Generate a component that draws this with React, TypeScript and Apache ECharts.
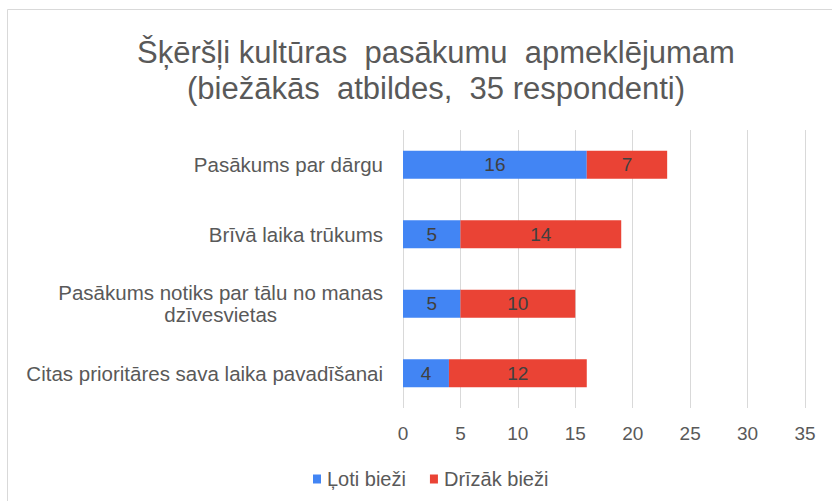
import React, { useEffect, useRef } from "react";
import * as echarts from "echarts";

const categories = [
  "Pasākums par dārgu",
  "Brīvā laika trūkums",
  "Pasākums notiks par tālu no manas\ndzīvesvietas",
  "Citas prioritāres sava laika pavadīšanai",
];
const lotiBiezi = [16, 5, 5, 4];
const drizakBiezi = [7, 14, 10, 12];
const seriesNames = ["Ļoti bieži", "Drīzāk bieži"];
const titleLines = ["Šķēršļi kultūras  pasākumu  apmeklējumam", "(biežākās  atbildes,  35 respondenti)"];

export default function App() {
  const ref = useRef<HTMLDivElement>(null);
  useEffect(() => {
    if (!ref.current) return;
    const chart = echarts.init(ref.current, null, { renderer: "svg" });
    const font = "'Liberation Sans', Arial, sans-serif";
    const labelStyle = {
      show: true,
      position: "inside",
      color: "#404040",
      fontSize: 19,
      fontFamily: font,
    };
    chart.setOption({
      animation: false,
      backgroundColor: "#ffffff",
      textStyle: { fontFamily: font },
      graphic: [
        {
          type: "rect",
          shape: { x: 7.5, y: 9.5, width: 830, height: 500 },
          style: { fill: "none", stroke: "#d9d9d9", lineWidth: 1 },
          silent: true,
        },
      ],
      title: {
        text: titleLines.join("\n"),
        left: 431,
        textAlign: "center",
        top: 29,
        textStyle: {
          fontFamily: font,
          fontSize: 31,
          fontWeight: "normal",
          color: "#595959",
          lineHeight: 36,
        },
      },
      legend: {
        data: seriesNames,
        top: 464,
        left: 308,
        itemWidth: 8,
        itemHeight: 9,
        itemGap: 24,
        icon: "rect",
        textStyle: { fontSize: 20, color: "#595959", fontFamily: font, padding: [0, 0, 0, 1] },
      },
      grid: { left: 403, right: 27, top: 130, height: 278, containLabel: false },
      xAxis: {
        type: "value",
        min: 0,
        max: 35,
        interval: 5,
        axisLine: { show: false },
        axisTick: { show: false },
        splitLine: { lineStyle: { color: "#d9d9d9" } },
        axisLabel: { fontSize: 19, color: "#595959", margin: 16, fontFamily: font },
      },
      yAxis: {
        type: "category",
        inverse: true,
        data: categories,
        axisLine: { show: false },
        axisTick: { show: false },
        axisLabel: {
          margin: 20,
          fontSize: 20.5,
          color: "#595959",
          fontFamily: font,
          formatter: (v: string) =>
            v
              .split("\n")
              .map((s) => `{c|${s}}`)
              .join("\n"),
          rich: {
            c: { align: "center", fontSize: 20.5, color: "#595959", fontFamily: font, lineHeight: 22 },
          },
        },
      },
      series: [
        {
          name: seriesNames[0],
          type: "bar",
          stack: "total",
          barWidth: 28,
          data: lotiBiezi,
          itemStyle: { color: "#4285F4" },
          label: labelStyle,
        },
        {
          name: seriesNames[1],
          type: "bar",
          stack: "total",
          barWidth: 28,
          data: drizakBiezi,
          itemStyle: { color: "#EA4335" },
          label: labelStyle,
        },
      ],
    });
    return () => chart.dispose();
  }, []);
  return (
    <div
      ref={ref}
      style={{ position: "fixed", left: 0, top: 0, width: 832, height: 501 }}
    />
  );
}
